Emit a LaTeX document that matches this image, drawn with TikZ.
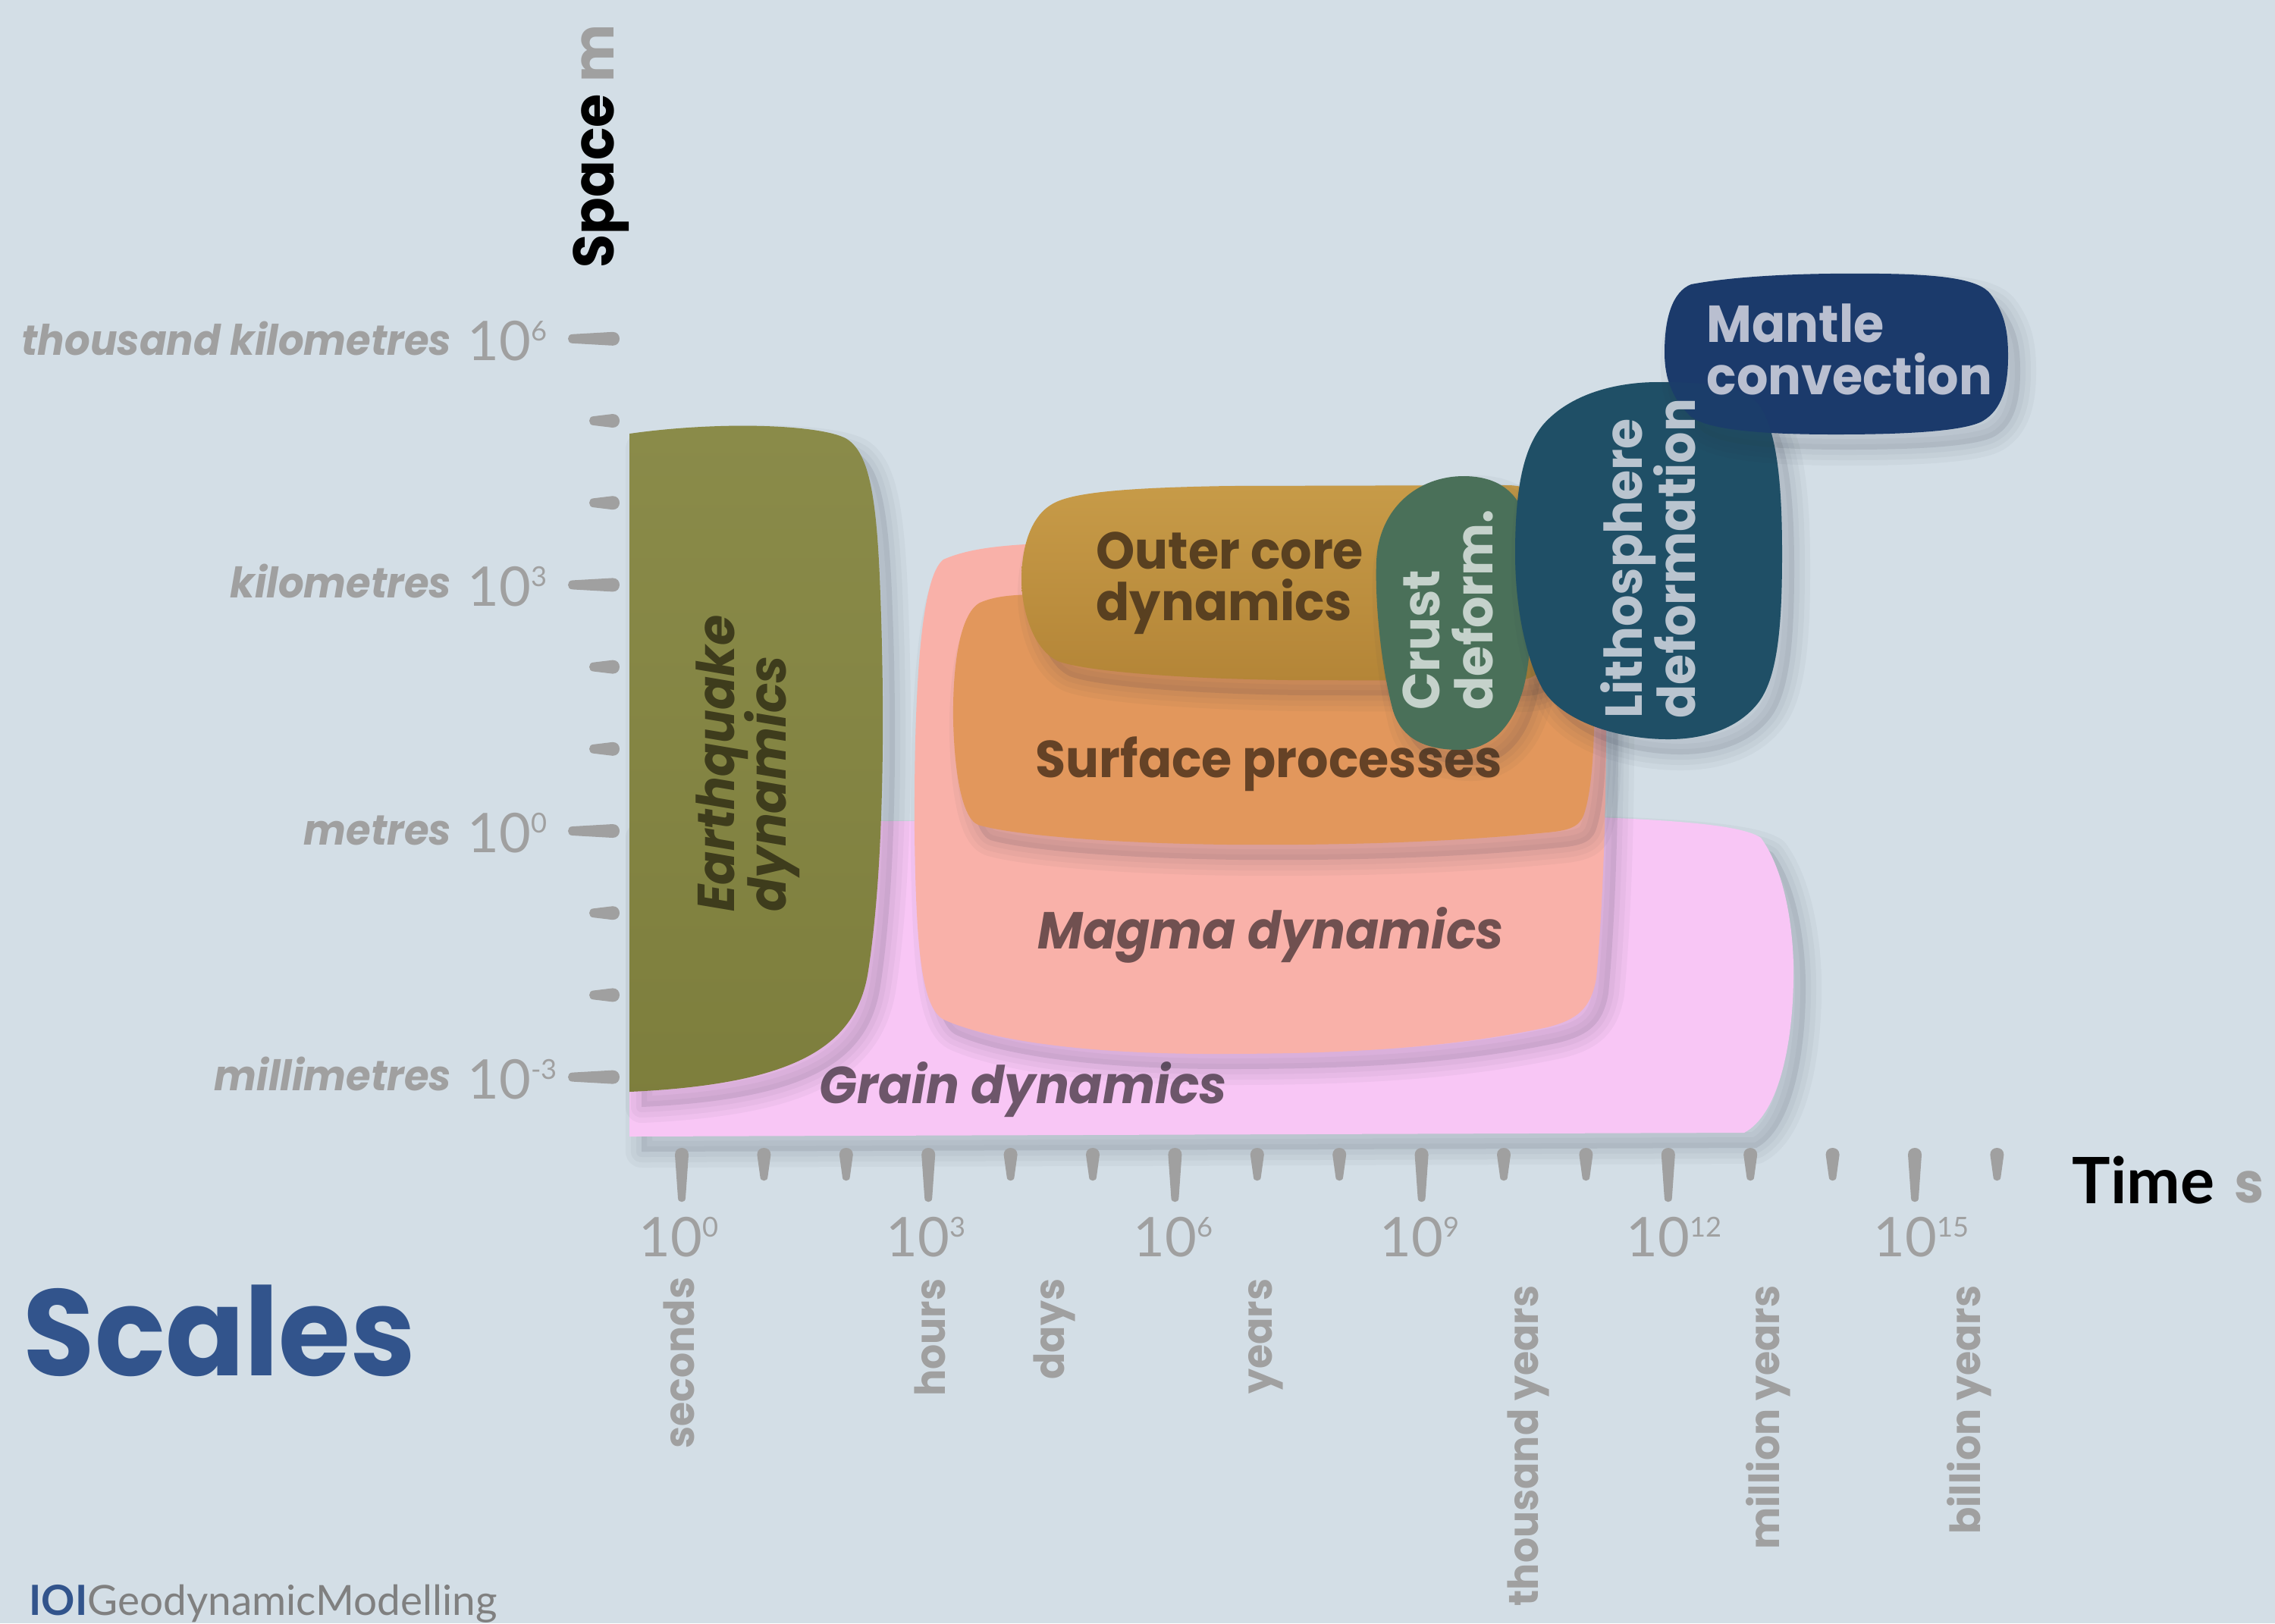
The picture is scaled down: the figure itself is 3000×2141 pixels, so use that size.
\documentclass[tikz,border=0pt]{standalone}
\usepackage{fontspec}
\setmainfont{Poppins}[FakeStretch=0.95]
\newfontfamily\lato{Lato}
\definecolor{bgc}{RGB}{211,222,230}
\definecolor{axgray}{RGB}{160,160,160}
\definecolor{shadowc}{RGB}{40,50,65}
\definecolor{eqc}{RGB}{132,133,64}
\definecolor{eqt}{RGB}{62,60,28}
\definecolor{grc}{RGB}{248,198,245}
\definecolor{grt}{RGB}{109,86,106}
\definecolor{mgc}{RGB}{249,177,169}
\definecolor{mgt}{RGB}{112,80,80}
\definecolor{sfc}{RGB}{226,151,92}
\definecolor{sft}{RGB}{101,66,38}
\definecolor{octop}{RGB}{199,155,72}
\definecolor{ocbot}{RGB}{180,133,55}
\definecolor{oct}{RGB}{89,64,32}
\definecolor{crc}{RGB}{74,112,89}
\definecolor{crt}{RGB}{197,210,203}
\definecolor{lic}{RGB}{31,79,102}
\definecolor{lit}{RGB}{185,196,207}
\definecolor{mnc}{RGB}{27,58,107}
\definecolor{mnt}{RGB}{185,191,208}
\definecolor{scalesblue}{RGB}{50,84,140}
\definecolor{logogray}{RGB}{128,128,128}
\newcommand\fsz[1]{\fontsize{#1pt}{#1pt}\selectfont}
\newcommand\pw[1]{10\raisebox{0.36em}{\fsz{10.3}#1}}
\newcommand\xtk[3]{\fill[axgray] ({#1-9},#2) .. controls ({#1-9},{#2-12}) and ({#1+9},{#2-12}) .. ({#1+9},#2) -- ({#1+5},#3) .. controls ({#1+5},{#3+7}) and ({#1-5},{#3+7}) .. ({#1-5},#3) -- cycle;}
\newcommand\ytk[3]{\fill[axgray] (#2,{#1-6}) -- (#3,{#1-9}) .. controls ({#3+12},{#1-9}) and ({#3+12},{#1+9}) .. (#3,{#1+9}) -- (#2,{#1+6}) .. controls ({#2-8},{#1+6}) and ({#2-8},{#1-6}) .. (#2,{#1-6}) -- cycle;}
\newcommand\blobshadow[1]{%
  \fill[shadowc, opacity=0.10, shift={(16,20)}] #1;
  \foreach \w in {42,28,14} {\pgfmathsetmacro\lw{\w*0.2845}
    \draw[shadowc, opacity=0.04, line width=\lw pt, line join=round, shift={(16,20)}] #1;}}
\def\pEq{(830,572) .. controls (950,555) and (1080,560) .. (1115,578) .. controls (1145,595) and (1155,650) .. (1160,760) .. controls (1168,950) and (1165,1150) .. (1145,1280) .. controls (1130,1380) and (1050,1430) .. (830,1440) -- cycle}
\def\pGr{(830,1085) -- (2110,1078) .. controls (2230,1083) and (2300,1090) .. (2322,1105) .. controls (2355,1150) and (2366,1230) .. (2365,1290) .. controls (2364,1380) and (2345,1470) .. (2300,1494) -- (830,1499) -- cycle}
\def\pMg{(1244,738) .. controls (1280,722) and (1330,718) .. (1400,716) -- (2060,712) .. controls (2100,714) and (2115,740) .. (2117,800) .. controls (2120,950) and (2118,1150) .. (2105,1290) .. controls (2098,1330) and (2080,1345) .. (2040,1355) .. controls (1900,1385) and (1750,1390) .. (1600,1390) .. controls (1420,1390) and (1300,1370) .. (1245,1345) .. controls (1215,1330) and (1208,1250) .. (1206,1100) .. controls (1205,900) and (1215,760) .. (1244,738) -- cycle}
\def\pSf{(1292,795) .. controls (1310,787) and (1330,785) .. (1360,784) -- (2060,780) .. controls (2090,782) and (2100,800) .. (2102,850) .. controls (2104,950) and (2102,1030) .. (2090,1070) .. controls (2085,1088) and (2075,1095) .. (2040,1098) .. controls (1900,1112) and (1750,1115) .. (1620,1114) .. controls (1450,1112) and (1330,1100) .. (1290,1088) .. controls (1265,1078) and (1258,1000) .. (1257,950) .. controls (1256,880) and (1265,810) .. (1292,795) -- cycle}
\def\pOc{(1391,663) .. controls (1420,648) and (1500,643) .. (1620,641) -- (1990,640) .. controls (2030,642) and (2040,660) .. (2040,700) -- (2040,850) .. controls (2040,890) and (2020,898) .. (1990,898) -- (1700,897) .. controls (1550,895) and (1430,885) .. (1395,872) .. controls (1360,855) and (1347,800) .. (1347,765) .. controls (1347,720) and (1360,678) .. (1391,663) -- cycle}
\def\pCr{(1930,628) .. controls (1990,628) and (2015,665) .. (2018,720) .. controls (2022,800) and (2020,880) .. (2005,920) .. controls (1990,965) and (1960,989) .. (1925,989) .. controls (1880,989) and (1845,975) .. (1835,930) .. controls (1820,870) and (1813,790) .. (1815,740) .. controls (1818,670) and (1870,628) .. (1930,628) -- cycle}
\def\pLi{(2186,504) .. controls (2260,504) and (2300,510) .. (2320,535) .. controls (2345,570) and (2350,650) .. (2350,730) .. controls (2350,820) and (2345,890) .. (2320,925) .. controls (2290,965) and (2240,975) .. (2200,975) .. controls (2130,975) and (2060,950) .. (2035,910) .. controls (2012,870) and (1998,800) .. (1998,730) .. controls (1998,640) and (2010,590) .. (2035,560) .. controls (2070,520) and (2130,504) .. (2186,504) -- cycle}
\def\pMn{(2230,375) .. controls (2300,362) and (2400,360) .. (2480,361) .. controls (2560,362) and (2610,368) .. (2625,388) .. controls (2645,415) and (2648,440) .. (2648,470) .. controls (2648,510) and (2640,540) .. (2615,555) .. controls (2590,570) and (2500,573) .. (2420,573) .. controls (2330,573) and (2250,568) .. (2228,548) .. controls (2200,520) and (2195,490) .. (2195,465) .. controls (2195,420) and (2205,385) .. (2230,375) -- cycle}
\tikzset{
  blobtxt/.style={inner sep=0pt, font=\bfseries\fsz{19.5}},
  blobit/.style={inner sep=0pt, font=\bfseries\itshape\fsz{19.5}},
  axword/.style={inner sep=0pt, text=axgray, font=\bfseries\itshape\fsz{15.8}},
  timeword/.style={inner sep=0pt, text=axgray, rotate=90, anchor=base east, font=\bfseries\fsz{15.6}},
  axnum/.style={inner sep=0pt, text=axgray, font=\lato\fsz{20.5}}
}
\begin{document}
\begin{tikzpicture}[x=0.01cm,y=-0.01cm]
\useasboundingbox (0,0) rectangle (3000,2141);
\fill[bgc] (0,0) rectangle (3000,2141);
% ---- blobs ----
\blobshadow{\pGr}
\fill[grc] \pGr;
\node[blobit, text=grt, anchor=base west] (grt) at (1080,1455) {Grain dynamics};
\blobshadow{\pEq}
\shade[top color=eqc!95!white, bottom color=eqc!95!black] \pEq;
\node[blobit, text=eqt, rotate=90, anchor=base west] (eq1) at (968,1203) {Earthquake};
\node[blobit, text=eqt, rotate=90, anchor=base west] (eq2) at (1036,1203) {dynamics};
\blobshadow{\pMg}
\fill[mgc] \pMg;
\node[blobit, text=mgt, anchor=base west] (mgt) at (1368,1251) {Magma dynamics};
\blobshadow{\pSf}
\fill[sfc] \pSf;
\node[blobtxt, text=sft, anchor=base west] (sft) at (1365,1025) {Surface processes};
\blobshadow{\pOc}
\shade[top color=octop, bottom color=ocbot] \pOc;
\node[blobtxt, text=oct, anchor=base west] (oc1) at (1445,750) {Outer core};
\node[blobtxt, text=oct, anchor=base west] (oc2) at (1445,818) {dynamics};
\blobshadow{\pCr}
\fill[crc] \pCr;
\node[blobtxt, text=crt, rotate=90, anchor=base west] (cr1) at (1898,937) {Crust};
\node[blobtxt, text=crt, rotate=90, anchor=base west] (cr2) at (1968,937) {deform.};
\blobshadow{\pLi}
\fill[lic] \pLi;
\blobshadow{\pMn}
\fill[mnc] \pMn;
\fill[lic, opacity=0.18] \pLi;
\node[blobtxt, text=lit, rotate=90, anchor=base west] (li1) at (2165,948) {Lithosphere};
\node[blobtxt, text=lit, rotate=90, anchor=base west] (li2) at (2235,948) {deformation};
\node[blobtxt, text=mnt, anchor=base west] (mn1) at (2250,451) {Mantle};
\node[blobtxt, text=mnt, anchor=base west] (mn2) at (2250,520) {convection};
% ---- y axis ----
\foreach \k in {-3,...,6} {
  \pgfmathsetmacro\yy{1096-108.2*\k}
  \pgfmathtruncatemacro\m{abs(mod(\k,3))}
  \ifnum\m=0 \ytk{\yy}{755}{808}\else\ytk{\yy}{783}{808}\fi
}
\node[axword, anchor=base east] (w6) at (596,468) {thousand kilometres};
\node[axword, anchor=base east] (w3) at (596,788) {kilometres};
\node[axword, anchor=base east] (w0) at (596,1114) {metres};
\node[axword, anchor=base east] (wm3) at (596,1438) {millimetres};
\node[axnum, anchor=base west] (n6) at (616,475) {\pw{6}};
\node[axnum, anchor=base west] (n3) at (616,799) {\pw{3}};
\node[axnum, anchor=base west] (n0) at (616,1124) {\pw{0}};
\node[axnum, anchor=base west] (nm3) at (616,1449) {\pw{-3}};
\node[inner sep=0pt, rotate=90, anchor=base west, font=\bfseries\fsz{21.5}] (space) at (809,354) {Space \textcolor{axgray}{m}};
% ---- x axis ----
\foreach \k in {0,...,16} {
  \pgfmathsetmacro\xx{899+108.4*\k}
  \pgfmathtruncatemacro\m{mod(\k,3)}
  \ifnum\m=0 \xtk{\xx}{1523}{1580}\else\xtk{\xx}{1523}{1552}\fi
}
\node[axnum, anchor=base west] (t0) at (842,1657) {\pw{0}};
\node[axnum, anchor=base west] (t3) at (1168,1657) {\pw{3}};
\node[axnum, anchor=base west] (t6) at (1494,1657) {\pw{6}};
\node[axnum, anchor=base west] (t9) at (1819,1657) {\pw{9}};
\node[axnum, anchor=base west] (t12) at (2144,1657) {\pw{12}};
\node[axnum, anchor=base west] (t15) at (2470,1657) {\pw{15}};
\node[timeword] (ts) at (915,1684) {seconds};
\node[timeword] (th) at (1246,1686) {hours};
\node[timeword] (td) at (1403,1686) {days};
\node[timeword] (ty) at (1677,1686) {years};
\node[timeword] (tk) at (2028,1695) {thousand years};
\node[timeword] (tm) at (2346,1695) {million years};
\node[timeword] (tb) at (2611,1695) {billion years};
\node[inner sep=0pt, anchor=base west, font=\lato\bfseries\fsz{24}] (time) at (2732,1587) {Time};
\node[inner sep=0pt, anchor=base west, text=axgray, font=\bfseries\fsz{21}] (tunit) at (2946,1586) {s};
% ---- title and logo ----
\node[inner sep=0pt, anchor=base west, text=scalesblue, font=\bfseries\fsz{46}] (title) at (30,1814) {Scales};
\node[inner sep=0pt, anchor=base west, font=\lato\fsz{15.6}] (logo) at (38,2130) {\textcolor{scalesblue}{\bfseries IOI}\textcolor{logogray}{GeodynamicModelling}};
\end{tikzpicture}
\end{document}
